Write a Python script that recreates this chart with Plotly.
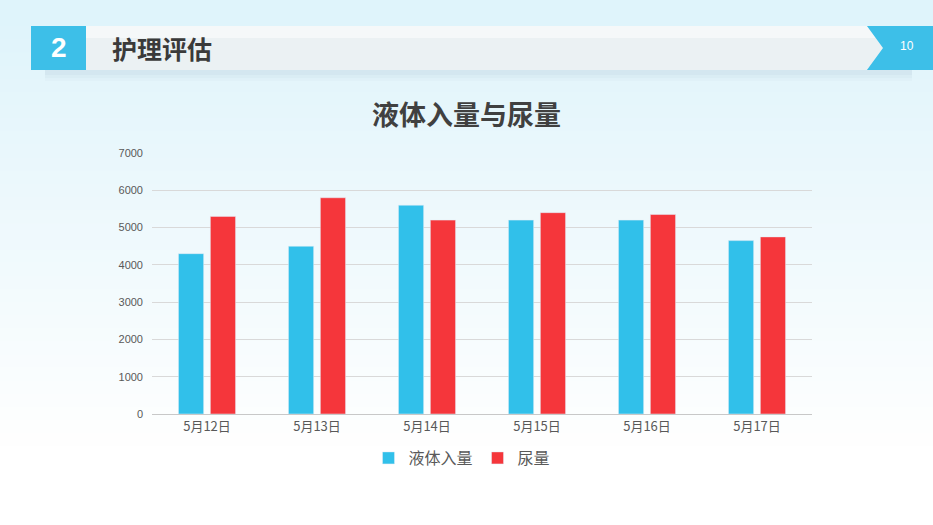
import plotly.graph_objects as go

# chart data
dates = ['5月12日', '5月13日', '5月14日', '5月15日', '5月16日', '5月17日']
intake = [4300, 4500, 5600, 5200, 5200, 4650]
urine = [5300, 5800, 5200, 5400, 5350, 4750]
series_names = ['液体入量', '尿量']
y_ticks = [0, 1000, 2000, 3000, 4000, 5000, 6000, 7000]

W, H = 933, 525
L, R, T, B = 152, 812, 153, 414   # plot area in pixels

CJK = 'Noto Sans CJK SC'
BLUE = '#31c0ea'
RED = '#f5363b'


def px(x):
    return (x - L) / (R - L)


def py(y):
    return (B - y) / (B - T)


fig = go.Figure()
fig.add_trace(go.Bar(x=dates, y=intake, name=series_names[0], marker_color=BLUE))
fig.add_trace(go.Bar(x=dates, y=urine, name=series_names[1], marker_color=RED))

shapes = []

# soft background gradient (light blue at top, white at bottom)
n = 40
top_rgb = (223, 244, 251)
for i in range(n):
    f = i / (n - 1)
    c = tuple(int(top_rgb[k] + (255 - top_rgb[k]) * min(1, f * 1.15)) for k in range(3))
    y0 = H * i / n
    y1 = H * (i + 1) / n + 1
    shapes.append(dict(type='rect', xref='paper', yref='paper',
                       x0=px(0), x1=px(W), y0=py(y1), y1=py(y0),
                       fillcolor='rgb(%d,%d,%d)' % c, line_width=0, layer='below'))

# header band shadow
for off, op in [(11, 0.05), (8, 0.07), (5, 0.09)]:
    shapes.append(dict(type='rect', xref='paper', yref='paper',
                       x0=px(45), x1=px(912), y0=py(70 + off), y1=py(60),
                       fillcolor='rgba(150,180,195,%s)' % op, line_width=0, layer='below'))

# header band (white-grey)
shapes.append(dict(type='path', xref='paper', yref='paper',
                   path='M %f %f L %f %f L %f %f L %f %f L %f %f Z' % (
                       px(86), py(26), px(867), py(26), px(883), py(48),
                       px(867), py(70), px(86), py(70)),
                   fillcolor='#ebf1f3', line_width=0, layer='below'))
shapes.append(dict(type='path', xref='paper', yref='paper',
                   path='M %f %f L %f %f L %f %f L %f %f Z' % (
                       px(86), py(26), px(867), py(26), px(876), py(38),
                       px(86), py(38)),
                   fillcolor='rgba(255,255,255,0.5)', line_width=0, layer='below'))

# blue number box on the left
shapes.append(dict(type='rect', xref='paper', yref='paper',
                   x0=px(31), x1=px(86), y0=py(70), y1=py(26),
                   fillcolor='#3dbfe8', line_width=0, layer='below'))

# blue page tag on the right
shapes.append(dict(type='path', xref='paper', yref='paper',
                   path='M %f %f L %f %f L %f %f L %f %f L %f %f Z' % (
                       px(867), py(26), px(933), py(26), px(933), py(70),
                       px(867), py(70), px(883), py(48)),
                   fillcolor='#3dbfe8', line_width=0, layer='below'))

annotations = [
    dict(text='<b>2</b>', x=px(58.5), y=py(48), xref='paper', yref='paper',
         xanchor='center', yanchor='middle', showarrow=False,
         font=dict(family='Liberation Sans', size=28, color='white')),
    dict(text='<b>护理评估</b>', x=px(110), y=py(48), xref='paper', yref='paper',
         xanchor='left', yanchor='middle', showarrow=False,
         font=dict(family=CJK, size=25, color='#3a3a3a')),
    dict(text='10', x=px(907), y=py(46), xref='paper', yref='paper',
         xanchor='center', yanchor='middle', showarrow=False,
         font=dict(family='Liberation Sans', size=12, color='white')),
    dict(text='<b>液体入量与尿量</b>', x=px(466), y=py(113), xref='paper', yref='paper',
         xanchor='center', yanchor='middle', showarrow=False,
         font=dict(family=CJK, size=27, color='#404040')),
]

fig.update_layout(
    width=W, height=H,
    margin=dict(l=L, r=W - R, t=T, b=H - B, pad=0),
    paper_bgcolor='white',
    plot_bgcolor='rgba(0,0,0,0)',
    font=dict(family=CJK, color='#595959'),
    barmode='group',
    bargap=0.42,
    bargroupgap=0.21,
    shapes=shapes,
    annotations=annotations,
    legend=dict(orientation='h', x=px(462), y=py(458), xanchor='center', yanchor='middle',
                font=dict(size=16, color='#595959'), bgcolor='rgba(0,0,0,0)',
                itemwidth=30, traceorder='normal'),
    xaxis=dict(showgrid=False, showline=True, linecolor='#c8c8c8', linewidth=1,
               ticks='', tickfont=dict(size=13, color='#595959')),
    yaxis=dict(range=[0, 7000], tickvals=y_ticks, showgrid=True, gridcolor='#d9d9d9',
               zeroline=False, showline=False, ticks='', ticklabelstandoff=8,
               tickfont=dict(family='Liberation Sans', size=11, color='#595959')),
)

# drop the browser's default page margin so the figure fills the window
fig.write_html('out.html', config={'displayModeBar': False},
               post_script="document.body.style.margin='0';")
